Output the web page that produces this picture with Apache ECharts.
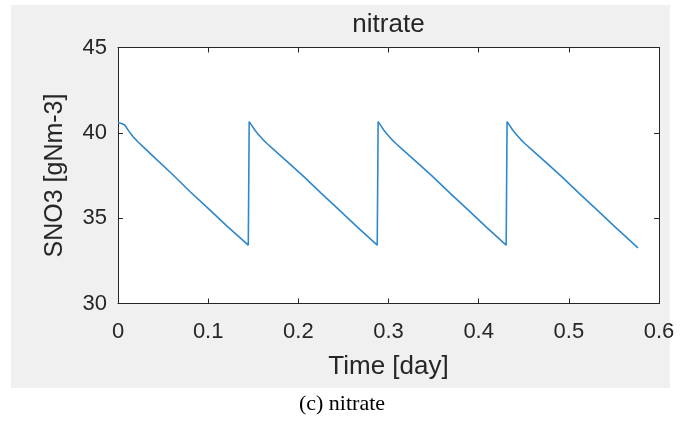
<!DOCTYPE html>
<html>
<head>
<meta charset="utf-8">
<script src="https://cdn.jsdelivr.net/npm/echarts@6/dist/echarts.min.js"></script>
<style>
html,body{margin:0;padding:0;background:#ffffff;}
#chart{width:684px;height:423px;}
</style>
</head>
<body>
<div id="chart"></div>
<script>
// Data (time in days, SNO3 in gN m-3)
var cycle1Time  = [0, 0.004, 0.0075, 0.012, 0.0166, 0.022, 0.0277, 0.04, 0.06, 0.08, 0.10, 0.12, 0.1445];
var cycle1SNO3  = [40.60, 40.55, 40.46, 40.10, 39.78, 39.48, 39.19, 38.58, 37.59, 36.55, 35.57, 34.58, 33.42];
var cycle2Time  = [0.1455, 0.1485, 0.1515, 0.1555, 0.1605, 0.1655, 0.1715, 0.1855, 0.2055, 0.2255, 0.2455, 0.2655, 0.2875];
var cycle2SNO3  = [40.66, 40.42, 40.18, 39.92, 39.62, 39.36, 39.08, 38.42, 37.46, 36.45, 35.47, 34.48, 33.42];
var cycle3Time  = [0.2885, 0.2915, 0.2945, 0.2985, 0.3035, 0.3085, 0.3145, 0.3285, 0.3485, 0.3685, 0.3885, 0.4085, 0.4305];
var cycle3SNO3  = [40.66, 40.42, 40.18, 39.92, 39.62, 39.36, 39.08, 38.42, 37.46, 36.45, 35.47, 34.48, 33.42];
var cycle4Time  = [0.4315, 0.4345, 0.4375, 0.4415, 0.4465, 0.4515, 0.4575, 0.4715, 0.4915, 0.5115, 0.5315, 0.5515, 0.5767];
var cycle4SNO3  = [40.66, 40.42, 40.18, 39.92, 39.62, 39.36, 39.08, 38.42, 37.46, 36.45, 35.47, 34.48, 33.26];

var xTicks = [0, 0.1, 0.2, 0.3, 0.4, 0.5, 0.6];
var yTicks = [30, 35, 40, 45];

var titleText = 'nitrate';
var xLabel = 'Time [day]';
var yLabel = 'SNO3 [gNm-3]';
var caption = '(c) nitrate';

var times = cycle1Time.concat(cycle2Time, cycle3Time, cycle4Time);
var vals = cycle1SNO3.concat(cycle2SNO3, cycle3SNO3, cycle4SNO3);
var seriesData = times.map(function (t, i) { return [t, vals[i]]; });

var axisColor = '#262626';
var fontFam = '"Liberation Sans", Arial, Helvetica, sans-serif';

var chart = echarts.init(document.getElementById('chart'), null, {renderer: 'canvas'});

var gLeft = 118, gTop = 47.5, gW = 541, gH = 256;

function baseX(show, pos) {
  return {
    type: 'value', position: pos,
    min: xTicks[0], max: xTicks[xTicks.length - 1], interval: 0.1,
    axisLine: {show: true, onZero: false, lineStyle: {color: axisColor, width: 1}},
    axisTick: {show: true, inside: true, length: 5, lineStyle: {color: axisColor}},
    axisLabel: {show: show, color: axisColor, fontSize: 22, fontFamily: fontFam, margin: 17,
      formatter: function (v) { return String(Math.round(v * 10) / 10); }},
    splitLine: {show: false}
  };
}
function baseY(show, pos) {
  return {
    type: 'value', position: pos,
    min: yTicks[0], max: yTicks[yTicks.length - 1], interval: 5,
    axisLine: {show: true, onZero: false, lineStyle: {color: axisColor, width: 1}},
    axisTick: {show: true, inside: true, length: 5, lineStyle: {color: axisColor}},
    axisLabel: {show: show, color: axisColor, fontSize: 22, fontFamily: fontFam, margin: 11},
    splitLine: {show: false}
  };
}

var xb = baseX(true, 'bottom');
xb.name = xLabel; xb.nameLocation = 'middle'; xb.nameGap = 50;
xb.nameTextStyle = {color: axisColor, fontSize: 26, fontFamily: fontFam};
var yl = baseY(true, 'left');
yl.name = yLabel; yl.nameLocation = 'middle'; yl.nameGap = 50;
yl.nameTextStyle = {color: axisColor, fontSize: 25, fontFamily: fontFam};

var option = {
  backgroundColor: '#ffffff',
  animation: false,
  graphic: [
    {type: 'rect', z: -10, shape: {x: 11, y: 5, width: 659, height: 383}, style: {fill: '#f0f0f0'}},
    {type: 'text', x: gLeft + gW / 2, y: 24.5, z: 10,
      style: {text: titleText, fill: axisColor, align: 'center', verticalAlign: 'middle',
        font: '26px "Liberation Sans", Arial, Helvetica, sans-serif'}},
    {type: 'text', x: 342, y: 404, z: 10,
      style: {text: caption, fill: '#000000', align: 'center', verticalAlign: 'middle',
        font: '22px "Liberation Serif", "Times New Roman", serif'}}
  ],
  grid: {left: gLeft, top: gTop, width: gW, height: gH, show: true,
    backgroundColor: '#ffffff', borderWidth: 0, containLabel: false},
  xAxis: [xb, baseX(false, 'top')],
  yAxis: [yl, baseY(false, 'right')],
  series: [{
    type: 'line', xAxisIndex: 0, yAxisIndex: 0,
    data: seriesData, showSymbol: false, smooth: false,
    lineStyle: {color: '#2f88cb', width: 1.6},
    emphasis: {disabled: true}
  }]
};
chart.setOption(option);
</script>
</body>
</html>
